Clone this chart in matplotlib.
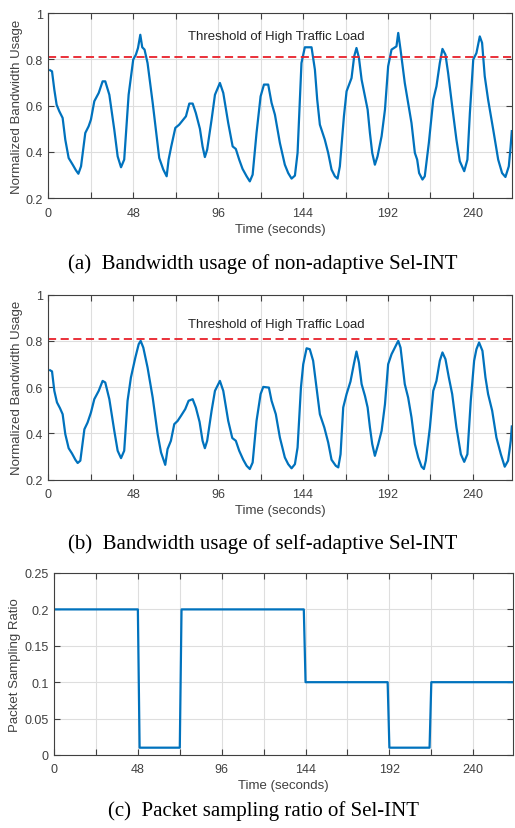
import matplotlib
matplotlib.use('Agg')
import matplotlib.pyplot as plt

# (a) non-adaptive Sel-INT, normalized bandwidth usage
t_a = [1, 2.1, 3.4, 4.7, 6.2, 8.1, 9.6, 11.5, 13.8, 15.6, 17.0, 18.5, 20.9, 22.8, 24.1, 26.0,
       28.5, 30.7, 32.2, 34.5, 37.3, 39.2, 41.1, 42.9, 45.4, 48.0, 49.5, 50.7, 52.0, 53.1, 54.4,
       56.1, 59.0, 62.7, 65.0, 66.9, 68.0, 69.5, 71.8, 74.0, 76.3, 77.8, 79.7, 81.6, 83.4, 85.7,
       87.2, 88.5, 89.8, 92.3, 94.2, 97.0, 98.9, 101.7, 104.2, 106.0, 107.9, 109.8, 112.1, 113.9,
       115.5, 117.7, 120.0, 121.9, 124.3, 126.2, 128.1, 130.9, 133.7, 135.6, 137.5, 139.4, 140.9,
       143.1, 145.0, 148.8, 150.7, 152.0, 153.5, 156.3, 158.2, 160.1, 162.0, 163.5, 164.8, 167.1,
       168.6, 171.4, 172.9, 174.2, 175.6, 177.1, 179.0, 180.5, 181.8, 183.1, 184.6, 186.1, 188.4,
       190.3, 192.1, 194.0, 196.8, 197.8, 199.1, 201.5, 203.4, 205.3, 207.2, 208.5, 209.6, 211.5,
       212.8, 215.1, 217.6, 219.4, 221.3, 222.8, 224.5, 226.0, 228.3, 230.7, 232.6, 235.1, 236.9,
       238.3, 240.2, 242.0, 243.9, 245.2, 246.7, 248.6, 251.5, 254.3, 256.5, 258.4, 260.3, 261.3, 262]
bw_a = [0.753, 0.748, 0.669, 0.604, 0.576, 0.547, 0.453, 0.374, 0.345, 0.321, 0.306, 0.338, 0.482,
        0.511, 0.540, 0.619, 0.655, 0.705, 0.705, 0.647, 0.496, 0.381, 0.334, 0.367, 0.647, 0.799,
        0.820, 0.849, 0.906, 0.852, 0.842, 0.784, 0.612, 0.374, 0.324, 0.295, 0.367, 0.424, 0.504,
        0.518, 0.540, 0.554, 0.609, 0.609, 0.568, 0.500, 0.424, 0.378, 0.410, 0.540, 0.647, 0.698,
        0.655, 0.525, 0.424, 0.413, 0.367, 0.327, 0.295, 0.273, 0.302, 0.482, 0.640, 0.691, 0.691,
        0.612, 0.561, 0.439, 0.345, 0.309, 0.285, 0.298, 0.396, 0.784, 0.852, 0.852, 0.755, 0.626,
        0.518, 0.453, 0.396, 0.324, 0.295, 0.285, 0.338, 0.554, 0.662, 0.719, 0.813, 0.849, 0.806,
        0.712, 0.640, 0.583, 0.482, 0.396, 0.345, 0.381, 0.468, 0.583, 0.770, 0.842, 0.856, 0.914,
        0.842, 0.698, 0.612, 0.525, 0.396, 0.367, 0.309, 0.281, 0.295, 0.439, 0.626, 0.683, 0.784,
        0.845, 0.820, 0.741, 0.597, 0.453, 0.360, 0.317, 0.367, 0.568, 0.799, 0.827, 0.899, 0.871,
        0.727, 0.626, 0.496, 0.367, 0.309, 0.292, 0.338, 0.420, 0.490]

# (b) self-adaptive Sel-INT, normalized bandwidth usage
t_b = [1, 2.1, 3.4, 4.9, 6.6, 8.1, 9.6, 11.5, 13.4, 15.3, 16.6, 18.1, 20.4, 22.2, 24.1, 26.0, 28.5,
       30.7, 32.2, 34.5, 37.3, 39.2, 41.1, 42.9, 44.8, 46.7, 49.2, 51.1, 52.2, 53.7, 56.1, 59.0,
       61.8, 63.7, 66.1, 67.4, 69.3, 71.2, 73.1, 75.0, 77.4, 79.3, 81.6, 83.4, 85.5, 87.2, 88.5,
       89.8, 92.3, 94.2, 97.0, 98.9, 101.7, 104.0, 106.0, 107.9, 110.2, 112.1, 113.9, 115.5, 117.7,
       120.0, 121.5, 124.7, 126.2, 128.6, 130.9, 133.7, 135.6, 137.5, 139.4, 140.9, 142.8, 144.1,
       146.0, 147.8, 149.7, 151.6, 153.5, 156.0, 158.2, 160.1, 162.5, 163.9, 165.2, 166.7, 168.6,
       170.8, 172.7, 174.2, 175.6, 177.1, 179.0, 180.5, 181.8, 183.1, 184.6, 186.5, 188.4, 190.3,
       192.1, 194.0, 195.9, 197.8, 199.1, 201.5, 203.4, 205.3, 207.2, 209.1, 211.0, 212.3, 213.4,
       215.7, 217.6, 219.4, 221.3, 222.8, 224.5, 226.4, 228.3, 230.7, 233.2, 235.1, 236.9, 238.8,
       240.7, 242.0, 243.5, 245.4, 247.1, 248.6, 250.9, 253.3, 255.8, 258.0, 259.9, 261.4, 262]
bw_b = [0.673, 0.668, 0.584, 0.534, 0.509, 0.483, 0.397, 0.336, 0.313, 0.286, 0.272, 0.282, 0.418,
        0.447, 0.490, 0.548, 0.584, 0.627, 0.620, 0.548, 0.411, 0.325, 0.293, 0.325, 0.541, 0.642,
        0.728, 0.786, 0.800, 0.771, 0.685, 0.555, 0.397, 0.318, 0.264, 0.332, 0.368, 0.440, 0.454,
        0.476, 0.505, 0.541, 0.548, 0.512, 0.450, 0.368, 0.336, 0.368, 0.498, 0.584, 0.627, 0.584,
        0.454, 0.380, 0.368, 0.325, 0.286, 0.260, 0.246, 0.274, 0.454, 0.570, 0.601, 0.598, 0.541,
        0.483, 0.382, 0.296, 0.267, 0.249, 0.267, 0.339, 0.598, 0.699, 0.768, 0.764, 0.714, 0.598,
        0.483, 0.426, 0.361, 0.286, 0.260, 0.253, 0.310, 0.512, 0.570, 0.624, 0.699, 0.754, 0.706,
        0.613, 0.562, 0.512, 0.426, 0.354, 0.303, 0.354, 0.411, 0.526, 0.699, 0.742, 0.771, 0.800,
        0.771, 0.613, 0.555, 0.469, 0.354, 0.296, 0.256, 0.246, 0.282, 0.426, 0.584, 0.627, 0.714,
        0.750, 0.721, 0.642, 0.570, 0.426, 0.310, 0.277, 0.310, 0.541, 0.714, 0.764, 0.793, 0.757,
        0.642, 0.570, 0.498, 0.382, 0.310, 0.256, 0.282, 0.368, 0.430]

# (c) packet sampling ratio
t_c = [0, 48, 49, 72, 73, 143, 144, 191, 192, 215, 216, 263]
ratio_c = [0.2, 0.2, 0.01, 0.01, 0.2, 0.2, 0.1, 0.1, 0.01, 0.01, 0.1, 0.1]

threshold = 0.81
x_ticks = [0, 24, 48, 72, 96, 120, 144, 168, 192, 216, 240]
x_labels = ['0', '', '48', '', '96', '', '144', '', '192', '', '240']
bw_ticks = [0.2, 0.4, 0.6, 0.8, 1.0]
bw_labels = ['0.2', '0.4', '0.6', '0.8', '1']
ratio_ticks = [0, 0.05, 0.1, 0.15, 0.2, 0.25]
ratio_labels = ['0', '0.05', '0.1', '0.15', '0.2', '0.25']

captions = ['(a)  Bandwidth usage of non-adaptive Sel-INT',
            '(b)  Bandwidth usage of self-adaptive Sel-INT',
            '(c)  Packet sampling ratio of Sel-INT']

plt.rcParams['font.family'] = ['Liberation Sans', 'DejaVu Sans']
plt.rcParams['lines.solid_joinstyle'] = 'round'
fg = '#404040'
blue = '#0072BD'


def style_axes(ax, xmax):
    ax.set_xlim(0, xmax)
    ax.set_xticks(x_ticks)
    ax.set_xticklabels(x_labels)
    ax.grid(True, color='#dedede', linewidth=0.8)
    ax.set_axisbelow(True)
    ax.tick_params(direction='in', top=True, right=True, length=4, width=0.8,
                   colors=fg, labelsize=9)
    ax.tick_params(axis='x', pad=6)
    ax.tick_params(axis='y', pad=4)
    for sp in ax.spines.values():
        sp.set_color(fg)
        sp.set_linewidth(0.8)
    ax.set_xlabel('Time (seconds)', fontsize=9.5, color=fg, labelpad=3)


fig = plt.figure(figsize=(5.15, 8.29), dpi=100)

ax1 = fig.add_axes([0.0938, 0.7596, 0.9, 0.2235])
ax1.plot(t_a, bw_a, color=blue, linewidth=1.6)
ax1.axhline(threshold, color='#e8202a', linestyle=(0, (4.5, 2.5)), linewidth=1.3)
ax1.text(79, 0.90, 'Threshold of High Traffic Load', fontsize=9.5, color='#262626', va='center')
ax1.set_ylim(0.2, 1)
ax1.set_yticks(bw_ticks)
ax1.set_yticklabels(bw_labels)
ax1.set_ylabel('Normalized Bandwidth Usage', fontsize=9.5, color=fg, labelpad=2)
style_axes(ax1, 262)

ax2 = fig.add_axes([0.0938, 0.4202, 0.9, 0.2232])
ax2.plot(t_b, bw_b, color=blue, linewidth=1.6)
ax2.axhline(threshold, color='#e8202a', linestyle=(0, (4.5, 2.5)), linewidth=1.3)
ax2.text(79, 0.875, 'Threshold of High Traffic Load', fontsize=9.5, color='#262626', va='center')
ax2.set_ylim(0.2, 1)
ax2.set_yticks(bw_ticks)
ax2.set_yticklabels(bw_labels)
ax2.set_ylabel('Normalized Bandwidth Usage', fontsize=9.5, color=fg, labelpad=2)
style_axes(ax2, 262)

ax3 = fig.add_axes([0.1049, 0.0881, 0.892, 0.2195])
ax3.plot(t_c, ratio_c, color=blue, linewidth=1.6)
ax3.set_ylim(0, 0.25)
ax3.set_yticks(ratio_ticks)
ax3.set_yticklabels(ratio_labels)
ax3.set_ylabel('Packet Sampling Ratio', fontsize=9.5, color=fg, labelpad=2)
style_axes(ax3, 263)

cap_y = [1 - 264 / 829, 1 - 544 / 829, 1 - 811 / 829]
for y, txt in zip(cap_y, captions):
    fig.text(0.511, y, txt, ha='center', va='center', fontsize=15,
             family=['Liberation Serif', 'DejaVu Serif'], color='black')

plt.savefig('out.png', dpi=100)
